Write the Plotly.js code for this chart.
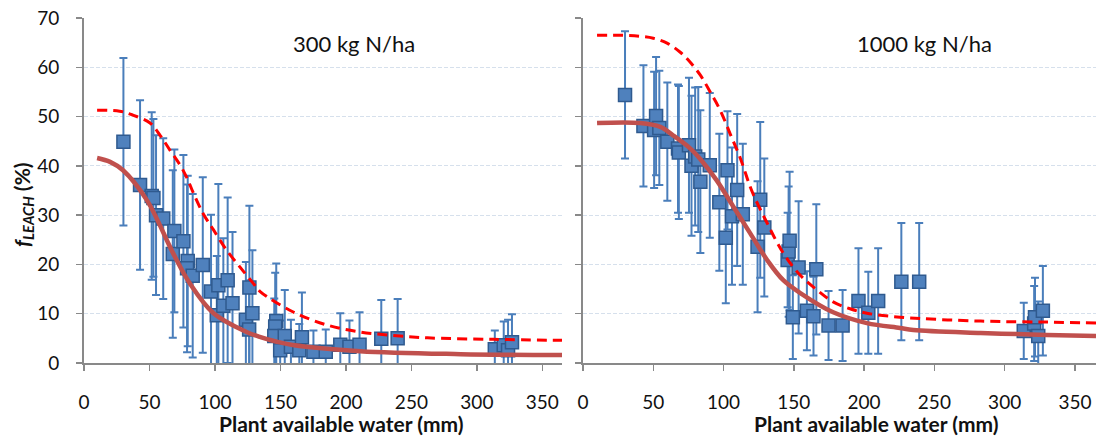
<!DOCTYPE html>
<html>
<head>
<meta charset="utf-8">
<script src="https://cdn.plot.ly/plotly-3.0.1.min.js"></script>
<style>html,body{margin:0;padding:0;background:#fff;}#chart{width:1099px;height:437px;}</style>
</head>
<body>
<div id="chart"></div>
<script>
// ---- Left panel: 300 kg N/ha ----
const leftX   = [30.1, 42.8, 51.7, 53.0, 55.0, 60.5, 69.0, 67.8, 75.9, 79.2, 78.7, 83.0, 90.7, 97.0, 102.6, 109.7, 101.4, 106.4, 113.4, 126.3, 123.6, 128.6, 126.1, 146.8, 146.0, 145.3, 149.8, 153.3, 158.0, 164.4, 166.4, 175.2, 184.6, 195.7, 202.7, 210.4, 227.0, 239.5, 313.7, 320.5, 323.8, 326.8];
const leftY   = [44.9, 36.1, 33.9, 33.5, 30.0, 29.3, 26.8, 22.1, 24.7, 20.7, 19.2, 17.7, 19.9, 14.5, 15.8, 16.8, 9.7, 11.6, 12.1, 15.3, 8.8, 10.1, 6.8, 8.5, 7.4, 5.5, 2.6, 5.5, 3.3, 2.6, 5.2, 2.3, 2.3, 3.7, 3.3, 3.7, 4.9, 5.0, 2.8, 3.6, 2.6, 4.2];
const leftErr = [17.0, 17.2, 17.0, 16.0, 16.2, 16.3, 16.5, 17.0, 17.5, 17.3, 17.0, 16.6, 17.8, 15.6, 20.5, 16.8, 12.0, 13.7, 14.5, 16.6, 11.7, 12.8, 10.0, 11.7, 10.9, 7.6, 6.0, 9.3, 5.5, 5.3, 9.1, 4.3, 4.5, 6.4, 5.3, 6.6, 7.9, 8.0, 3.8, 4.8, 6.2, 5.7];

const leftFitX  = [10, 19.9, 29.8, 48.1, 68.0, 80.7, 98.9, 124.1, 134.2, 147.3, 159.4, 210.8, 287.5, 365];
const leftFitY  = [41.6, 40.8, 39.1, 33.0, 22.3, 16.2, 10.1, 6.3, 5.3, 4.3, 3.65, 2.4, 1.8, 1.6];
const leftDashX = [10, 27.2, 37.3, 50.4, 58.1, 65.6, 73.3, 78.7, 82.7, 90.8, 98.9, 108.9, 119.0, 129.1, 134.5, 159.4, 185.6, 210.8, 236.0, 262.3, 312.7, 365];
const leftDashY = [51.3, 51.1, 50.3, 48.7, 46.2, 43.2, 40.2, 37.5, 35.0, 30.4, 27.0, 22.9, 19.5, 16.2, 14.5, 10.4, 7.7, 6.3, 5.6, 5.1, 4.8, 4.6];

// ---- Right panel: 1000 kg N/ha ----
const rightX   = [29.9, 43.0, 50.6, 52.0, 54.3, 60.0, 67.6, 68.2, 75.4, 77.2, 79.8, 82.0, 83.5, 90.2, 97.0, 101.6, 102.8, 106.0, 109.7, 113.7, 124.2, 126.1, 129.0, 145.6, 146.3, 147.0, 149.3, 153.4, 159.3, 164.0, 166.0, 174.7, 184.7, 196.0, 203.0, 210.0, 226.5, 239.2, 313.6, 321.0, 321.6, 323.9, 327.2];
const rightY   = [54.4, 48.1, 47.3, 50.1, 47.7, 44.9, 43.5, 42.7, 44.2, 40.0, 41.9, 41.3, 36.8, 40.1, 32.6, 25.4, 39.1, 29.8, 35.1, 30.2, 23.6, 33.1, 27.5, 20.9, 22.6, 24.8, 9.3, 19.4, 10.6, 9.5, 19.0, 7.6, 7.6, 12.6, 10.2, 12.6, 16.5, 16.5, 6.5, 8.0, 9.3, 5.5, 10.6];
const rightErr = [12.9, 12.3, 11.8, 12.0, 11.6, 12.0, 13.0, 13.5, 13.7, 14.2, 14.0, 14.7, 14.5, 14.7, 13.9, 13.3, 12.0, 13.9, 15.4, 14.3, 13.3, 15.8, 14.0, 9.6, 13.2, 14.0, 8.5, 13.4, 8.0, 8.0, 13.2, 7.0, 7.2, 10.7, 8.3, 10.7, 11.9, 11.9, 5.7, 7.6, 8.0, 7.0, 9.1];

const rightFitX  = [10, 40.6, 55, 64, 76, 84, 95, 107, 119, 131, 142.5, 154.6, 178, 202, 225.5, 235, 283, 330, 365];
const rightFitY  = [48.7, 48.7, 47.9, 46.2, 43.6, 41.2, 37.1, 31.7, 26.3, 20.9, 16.8, 14.2, 10.3, 8.1, 7.1, 6.7, 6.1, 5.7, 5.5];
const rightDashX = [10, 28.5, 40.6, 50, 59.8, 69, 76, 83.5, 90.5, 97.6, 104.7, 112, 120, 131, 142.5, 154.6, 166.5, 178, 190, 202, 225.5, 283, 330, 365];
const rightDashY = [66.5, 66.5, 66.3, 65.9, 64.9, 63.1, 61.1, 58.4, 55.0, 51.3, 46.5, 41.5, 35.0, 28.4, 22.3, 17.8, 14.8, 12.4, 11.0, 10.1, 9.3, 8.5, 8.3, 8.1];

const xTicks = [0, 50, 100, 150, 200, 250, 300, 350];
const yTicks = [0, 10, 20, 30, 40, 50, 60, 70];

const FONT = 'Lato, "Open Sans", sans-serif';
const markerStyle = {symbol: 'square', size: 13, color: '#4f81bd', line: {color: '#2f5a8f', width: 1.5}};
function errStyle(arr) {
  return {type: 'data', array: arr, visible: true, color: '#4a7ebb', thickness: 2, width: 4};
}

const traces = [
  {x: leftX, y: leftY, xaxis: 'x', yaxis: 'y', mode: 'markers', type: 'scatter',
   marker: markerStyle, error_y: errStyle(leftErr), hoverinfo: 'x+y'},
  {x: leftDashX, y: leftDashY, xaxis: 'x', yaxis: 'y', mode: 'lines', type: 'scatter',
   line: {color: '#ff0000', width: 3, dash: '10px,6px', shape: 'spline'}},
  {x: leftFitX, y: leftFitY, xaxis: 'x', yaxis: 'y', mode: 'lines', type: 'scatter',
   line: {color: '#c0504d', width: 4.5, shape: 'spline'}},
  {x: rightX, y: rightY, xaxis: 'x2', yaxis: 'y2', mode: 'markers', type: 'scatter',
   marker: markerStyle, error_y: errStyle(rightErr), hoverinfo: 'x+y'},
  {x: rightDashX, y: rightDashY, xaxis: 'x2', yaxis: 'y2', mode: 'lines', type: 'scatter',
   line: {color: '#ff0000', width: 3, dash: '10px,6px', shape: 'spline'}},
  {x: rightFitX, y: rightFitY, xaxis: 'x2', yaxis: 'y2', mode: 'lines', type: 'scatter',
   line: {color: '#c0504d', width: 4.5, shape: 'spline'}}
];

const yDom = [74/437, 419/437];
const axisCommon = {
  showline: true, linecolor: '#898989', linewidth: 1.8, zeroline: false,
  ticks: 'outside', ticklen: 6, tickcolor: '#898989', tickwidth: 1.5,
  tickfont: {family: FONT, size: 19, color: '#111'}, fixedrange: true
};
const xAxisBase = Object.assign({}, axisCommon, {
  range: [0, 365], tickvals: xTicks, showgrid: false, ticklabelstandoff: 15
});
const yAxisBase = Object.assign({}, axisCommon, {
  range: [0, 70], tickvals: yTicks, showgrid: true, gridcolor: '#d6e0ec', gridwidth: 1,
  griddash: '4px,2px', domain: yDom
});

const layout = {
  width: 1099, height: 437,
  margin: {l: 0, r: 0, t: 0, b: 0},
  paper_bgcolor: '#ffffff', plot_bgcolor: '#ffffff',
  showlegend: false,
  font: {family: FONT, color: '#111'},
  xaxis: Object.assign({}, xAxisBase, {domain: [84/1099, 562/1099], anchor: 'y'}),
  yaxis: Object.assign({}, yAxisBase, {anchor: 'x', ticklabelstandoff: 13}),
  xaxis2: Object.assign({}, xAxisBase, {domain: [583/1099, 1096/1099], anchor: 'y2'}),
  yaxis2: Object.assign({}, yAxisBase, {anchor: 'x2', showticklabels: false}),
  annotations: [
    {text: '300 kg N/ha', xref: 'paper', yref: 'paper', x: 354/1099, y: (437-43)/437,
     xanchor: 'center', yanchor: 'middle', showarrow: false, font: {family: FONT, size: 22, color: '#111'}},
    {text: '1000 kg N/ha', xref: 'paper', yref: 'paper', x: 924/1099, y: (437-43)/437,
     xanchor: 'center', yanchor: 'middle', showarrow: false, font: {family: FONT, size: 22, color: '#111'}},
    {text: '<b>Plant available water (mm)</b>', xref: 'paper', yref: 'paper', x: 341/1099, y: (437-423)/437,
     xanchor: 'center', yanchor: 'middle', showarrow: false, font: {family: FONT, size: 21, color: '#111'}},
    {text: '<b>Plant available water (mm)</b>', xref: 'paper', yref: 'paper', x: 876/1099, y: (437-423)/437,
     xanchor: 'center', yanchor: 'middle', showarrow: false, font: {family: FONT, size: 21, color: '#111'}},
    {text: '<b><i>f</i><sub><i>LEACH</i></sub> (%)</b>', xref: 'paper', yref: 'paper', x: 23/1099, y: (437-205)/437,
     xanchor: 'center', yanchor: 'middle', textangle: -90, showarrow: false, font: {family: FONT, size: 21, color: '#111'}}
  ]
};

Plotly.newPlot('chart', traces, layout, {displayModeBar: false, staticPlot: true});
</script>
</body>
</html>
